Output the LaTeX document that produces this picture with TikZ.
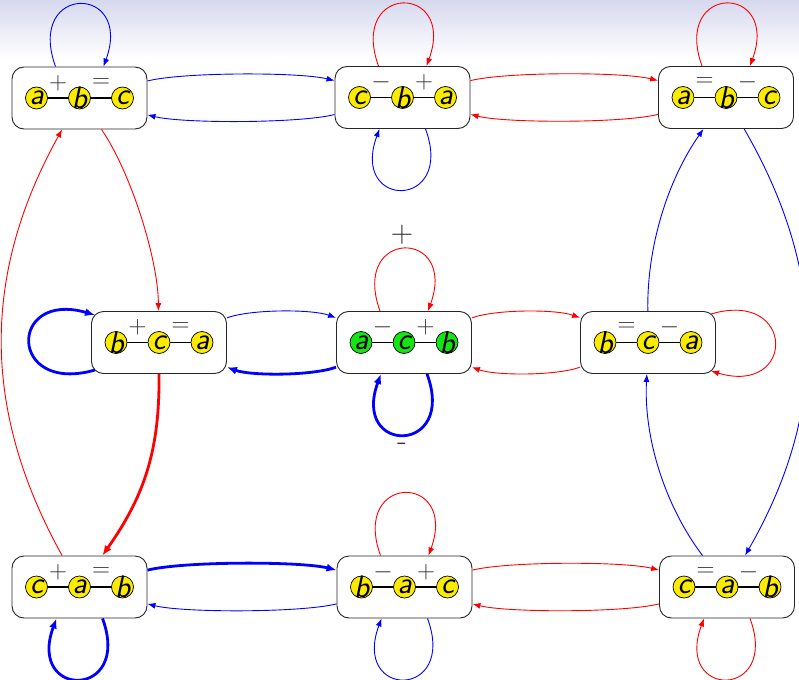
\documentclass[tikz,border=0pt]{standalone}
\usepackage{fontspec}
\usetikzlibrary{arrows.meta,calc}
\definecolor{bgtop}{RGB}{214,216,238}
\definecolor{ballyel}{RGB}{250,235,0}
\definecolor{ballgrn}{RGB}{20,230,20}
\newcommand\stbox[9]{%
  \node[box] (#1) at (#2,#3) {};
  \draw[bond] ([xshift=-43pt]#1.center) -- ([xshift=43pt]#1.center);
  \node[ball,fill=#9] (#1-1) at ([xshift=-43pt]#1.center) {};
  \node[ball,fill=#9] (#1-2) at (#1.center) {};
  \node[ball,fill=#9] (#1-3) at ([xshift=43pt]#1.center) {};
  \node[lett] (#1-l1) at (#1-1) {#4};
  \node[lett] (#1-l2) at (#1-2) {#6};
  \node[lett] (#1-l3) at (#1-3) {#8};
  \node[sign] (#1-s1) at ([xshift=-21.5pt,yshift=15pt]#1.center) {$#5$};
  \node[sign] (#1-s2) at ([xshift=21.5pt,yshift=15pt]#1.center) {$#7$};
}
\begin{document}
\begin{tikzpicture}[x=1pt,y=1pt,
  box/.style={draw=black!85,line width=0.9pt,rounded corners=12pt,fill=white,minimum width=135pt,minimum height=62pt,inner sep=0pt},
  ball/.style={circle,draw=black,line width=0.7pt,minimum size=22pt,inner sep=0pt},
  lett/.style={inner sep=0pt,font=\fontsize{31}{34}\selectfont\sffamily\itshape},
  sign/.style={inner sep=0pt,text=black!80,font=\fontsize{31}{34}\selectfont},
  bond/.style={line width=1.3pt},
  thinb/.style={draw=blue,line width=0.9pt,-{Latex[length=8pt,width=6pt]}},
  thickb/.style={draw=blue,line width=2.8pt,-{Latex[length=10pt,width=8pt]}},
  thinr/.style={draw=red,line width=0.9pt,-{Latex[length=8pt,width=6pt]}},
  thickr/.style={draw=red,line width=2.8pt,-{Latex[length=10pt,width=8pt]}}
]
\useasboundingbox (0,0) rectangle (799,-679);
\fill[white] (0,0) rectangle (799,-679);
\shade[top color=bgtop,bottom color=white] (0,0) rectangle (799,-58);

\stbox{TL}{79.5}{-98}{a}{+}{b}{=}{c}{ballyel}
\stbox{TM}{402.5}{-97.5}{c}{-}{b}{+}{a}{ballyel}
\stbox{TR}{726}{-97.5}{a}{=}{b}{-}{c}{ballyel}
\stbox{ML}{159}{-342.5}{b}{+}{c}{=}{a}{ballyel}
\stbox{MM}{404}{-342.5}{a}{-}{c}{+}{b}{ballgrn}
\stbox{MR}{648}{-342.5}{b}{=}{c}{-}{a}{ballyel}
\stbox{BL}{79.5}{-587}{c}{+}{a}{=}{b}{ballyel}
\stbox{BM}{404.5}{-587}{b}{-}{a}{+}{c}{ballyel}
\stbox{BR}{727}{-587}{c}{=}{a}{-}{b}{ballyel}

\node[sign] (lplus) at (402,-235) {+};
\node[sign] (lminus) at (402,-447) {-};

% horizontal edges
\draw[thinb] (TL) to[bend left=14,looseness=0.5] (TM);
\draw[thinb] (TM) to[bend left=14,looseness=0.5] (TL);
\draw[thinr] (TM) to[bend left=14,looseness=0.5] (TR);
\draw[thinr] (TR) to[bend left=14,looseness=0.5] (TM);
\draw[thinb] (ML) to[bend left=20,looseness=0.6] (MM);
\draw[thickb] (MM) to[bend left=20,looseness=0.6] (ML);
\draw[thinr] (MM) to[bend left=20,looseness=0.6] (MR);
\draw[thinr] (MR) to[bend left=20,looseness=0.6] (MM);
\draw[thickb] (BL) to[bend left=14,looseness=0.5] (BM);
\draw[thinb] (BM) to[bend left=14,looseness=0.5] (BL);
\draw[thinr] (BM) to[bend left=14,looseness=0.5] (BR);
\draw[thinr] (BR) to[bend left=14,looseness=0.5] (BM);
% vertical edges
\draw[thinr] (TL) to[bend left=17,looseness=0.7] (ML);
\draw[thickr] (ML) to[bend left=18] (BL);
\draw[thinr] (BL) to[bend left=29] (TL);
\draw[thinb] (TR) to[bend left=30] (BR);
\draw[thinb] (MR) to[bend left=18,looseness=0.85] (TR);
\draw[thinb] (BR) to[bend left=20,looseness=0.85] (MR);
% loops above
\draw[thinb] ([xshift=-24pt]TL.north) .. controls +(-30,83) and +(30,83) .. ([xshift=24pt]TL.north);
\draw[thinr] ([xshift=-24pt]TM.north) .. controls +(-30,83) and +(30,83) .. ([xshift=24pt]TM.north);
\draw[thinr] ([xshift=-24pt]TR.north) .. controls +(-30,83) and +(30,83) .. ([xshift=24pt]TR.north);
\draw[thinr] ([xshift=-24pt]MM.north) .. controls +(-30,83) and +(30,83) .. ([xshift=24pt]MM.north);
\draw[thinr] ([xshift=-24pt]BM.north) .. controls +(-30,83) and +(30,83) .. ([xshift=24pt]BM.north);
% loops below
\draw[thinb] ([xshift=23pt]TM.south) .. controls +(30,-81) and +(-30,-81) .. ([xshift=-23pt]TM.south);
\draw[thickb] ([xshift=23pt]MM.south) .. controls +(30,-81) and +(-30,-81) .. ([xshift=-23pt]MM.south);
\draw[thickb] ([xshift=23pt]BL.south) .. controls +(30,-81) and +(-30,-81) .. ([xshift=-23pt]BL.south);
\draw[thinb] ([xshift=23pt]BM.south) .. controls +(30,-81) and +(-30,-81) .. ([xshift=-23pt]BM.south);
\draw[thinr] ([xshift=23pt]BR.south) .. controls +(30,-81) and +(-30,-81) .. ([xshift=-23pt]BR.south);
% side loops
\draw[thickb] ([shift={(-64,-27.5)}]ML.center) .. controls +(-87,-25) and +(-87,25) .. ([shift={(-64,27.5)}]ML.center);
\draw[thinr] ([shift={(63,28.5)}]MR.center) .. controls +(85,25) and +(85,-25) .. ([shift={(63,-28.5)}]MR.center);
\end{tikzpicture}
\end{document}
